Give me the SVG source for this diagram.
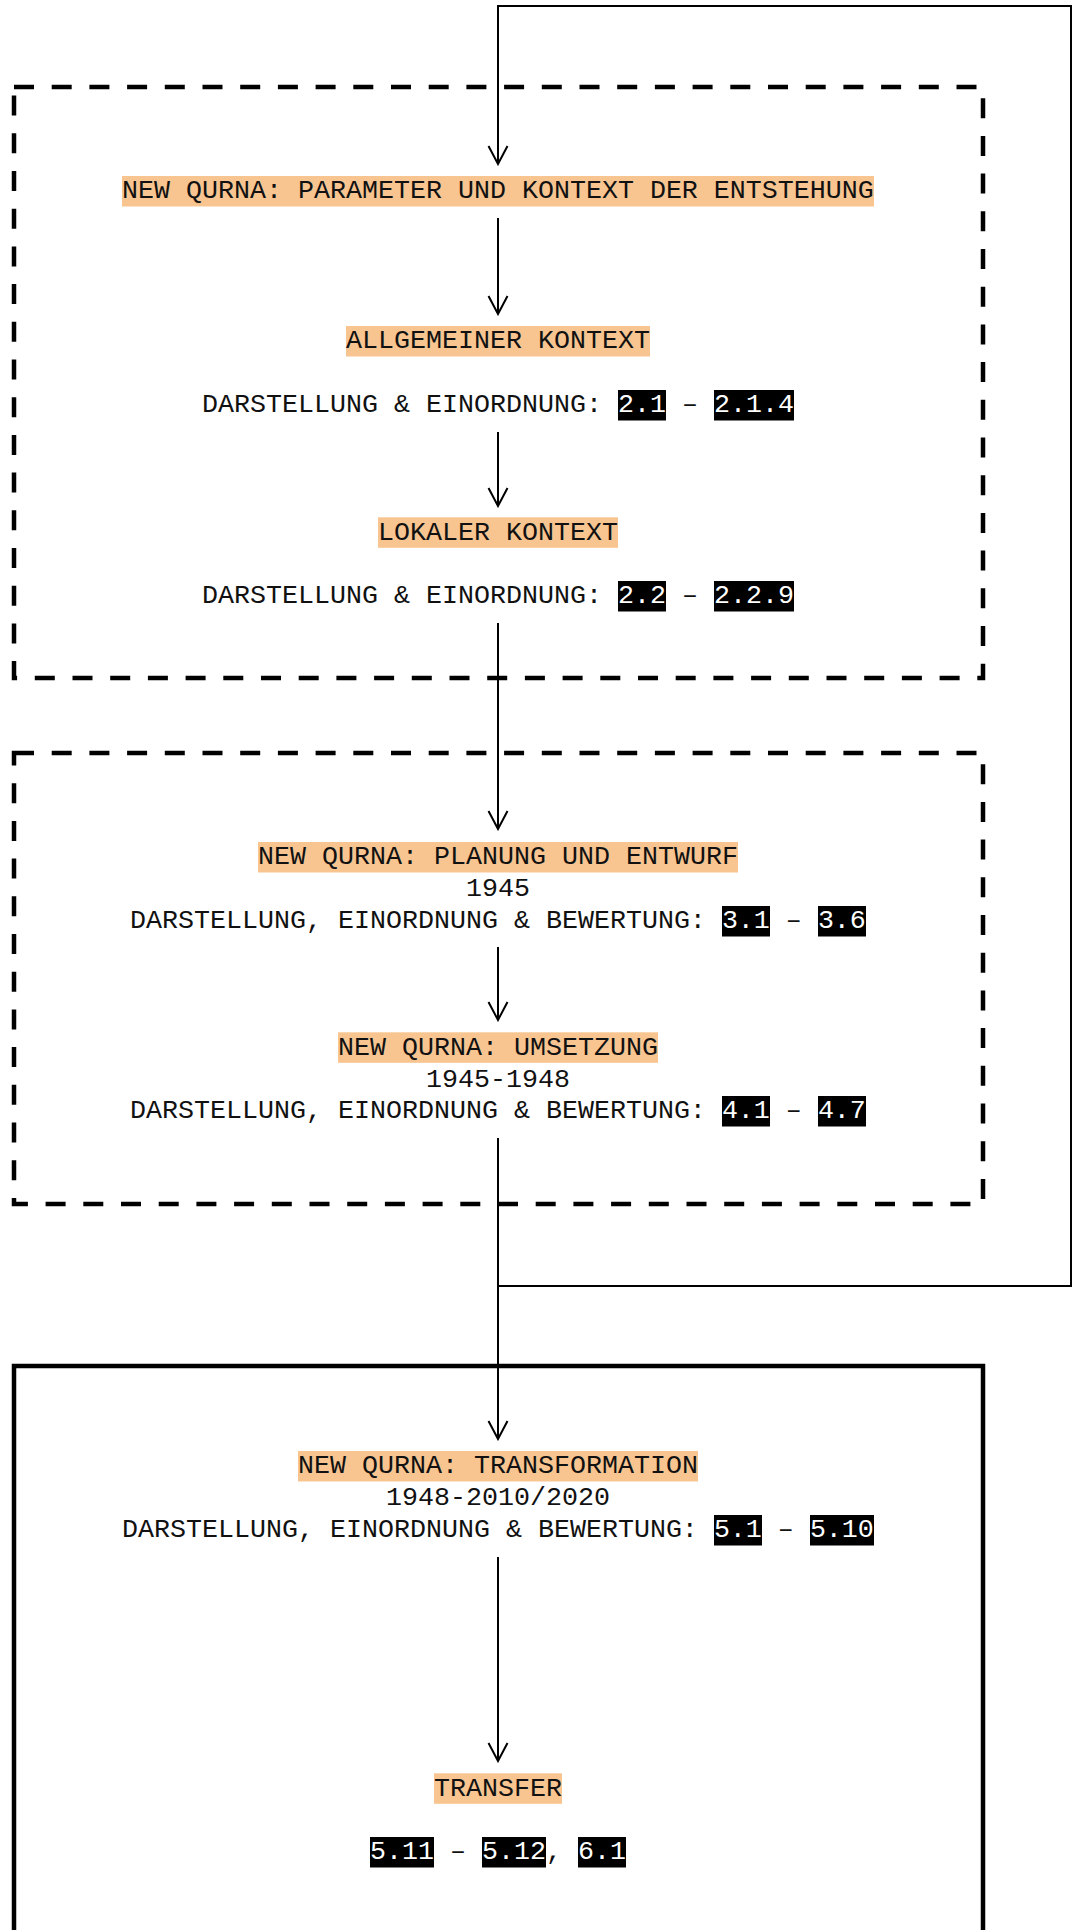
<svg xmlns="http://www.w3.org/2000/svg" width="1076" height="1930" viewBox="0 0 1076 1930">
<style>
.t{font-family:"Liberation Mono","Courier New",monospace;font-size:26.667px;fill:#111}
.w{fill:#fff}
.hl{fill:#F8C591}
.nb{fill:#000}
.dash{fill:none;stroke:#000;stroke-width:4.5;stroke-dasharray:20 17.7}
.solid{fill:none;stroke:#000;stroke-width:4.5}
.edge{fill:none;stroke:#000;stroke-width:2;marker-end:url(#arr)}
</style>
<defs>
<marker id="arr" markerUnits="userSpaceOnUse" viewBox="-20 -11 22 22" refX="0" refY="0" markerWidth="22" markerHeight="22" orient="auto">
<path d="M-18,-9.5 L0,0 L-18,9.5" fill="none" stroke="#000" stroke-width="2"/>
</marker>
</defs>
<g id="groups">
<rect id="group1" class="dash" x="14" y="87" width="969" height="591"/>
<rect id="group2" class="dash" x="14" y="753" width="969" height="451"/>
<rect id="group3" class="solid" x="14" y="1366" width="969" height="600"/>
</g>
<g id="connectors">
<path class="edge" d="M498,1286 H1071 V6 H498 V164"/>
<path class="edge" d="M498,218 V314"/>
<path class="edge" d="M498,432 V506"/>
<path class="edge" d="M498,623 V829"/>
<path class="edge" d="M498,947 V1020"/>
<path class="edge" d="M498,1138 V1439"/>
<path class="edge" d="M498,1557 V1761"/>
</g>
<g id="n-title">
<rect class="hl" x="122" y="176" width="752" height="30.5"/>
<text class="t" x="122" y="198.2" xml:space="preserve">NEW QURNA: PARAMETER UND KONTEXT DER ENTSTEHUNG</text>
</g>
<g id="n-allgemein">
<rect class="hl" x="346" y="326" width="304" height="30.5"/>
<text class="t" x="346" y="348.2" xml:space="preserve">ALLGEMEINER KONTEXT</text>
<rect class="nb" x="618" y="390" width="48" height="30.5"/>
<rect class="nb" x="714" y="390" width="80" height="30.5"/>
<text class="t" x="202" y="412.2" xml:space="preserve">DARSTELLUNG &amp; EINORDNUNG: <tspan class="w">2.1</tspan> – <tspan class="w">2.1.4</tspan></text>
</g>
<g id="n-lokal">
<rect class="hl" x="378" y="517.3" width="240" height="30.5"/>
<text class="t" x="378" y="539.5" xml:space="preserve">LOKALER KONTEXT</text>
<rect class="nb" x="618" y="581" width="48" height="30.5"/>
<rect class="nb" x="714" y="581" width="80" height="30.5"/>
<text class="t" x="202" y="603.2" xml:space="preserve">DARSTELLUNG &amp; EINORDNUNG: <tspan class="w">2.2</tspan> – <tspan class="w">2.2.9</tspan></text>
</g>
<g id="n-planung">
<rect class="hl" x="258" y="842" width="480" height="30.5"/>
<text class="t" x="258" y="864.2" xml:space="preserve">NEW QURNA: PLANUNG UND ENTWURF</text>
<text class="t" x="466" y="896.2" xml:space="preserve">1945</text>
<rect class="nb" x="722" y="906" width="48" height="30.5"/>
<rect class="nb" x="818" y="906" width="48" height="30.5"/>
<text class="t" x="130" y="928.2" xml:space="preserve">DARSTELLUNG, EINORDNUNG &amp; BEWERTUNG: <tspan class="w">3.1</tspan> – <tspan class="w">3.6</tspan></text>
</g>
<g id="n-umsetzung">
<rect class="hl" x="338" y="1032.3" width="320" height="30.5"/>
<text class="t" x="338" y="1054.5" xml:space="preserve">NEW QURNA: UMSETZUNG</text>
<text class="t" x="426" y="1086.5" xml:space="preserve">1945-1948</text>
<rect class="nb" x="722" y="1096" width="48" height="30.5"/>
<rect class="nb" x="818" y="1096" width="48" height="30.5"/>
<text class="t" x="130" y="1118.2" xml:space="preserve">DARSTELLUNG, EINORDNUNG &amp; BEWERTUNG: <tspan class="w">4.1</tspan> – <tspan class="w">4.7</tspan></text>
</g>
<g id="n-transformation">
<rect class="hl" x="298" y="1451" width="400" height="30.5"/>
<text class="t" x="298" y="1473.2" xml:space="preserve">NEW QURNA: TRANSFORMATION</text>
<text class="t" x="386" y="1505.2" xml:space="preserve">1948-2010/2020</text>
<rect class="nb" x="714" y="1515" width="48" height="30.5"/>
<rect class="nb" x="810" y="1515" width="64" height="30.5"/>
<text class="t" x="122" y="1537.2" xml:space="preserve">DARSTELLUNG, EINORDNUNG &amp; BEWERTUNG: <tspan class="w">5.1</tspan> – <tspan class="w">5.10</tspan></text>
</g>
<g id="n-transfer">
<rect class="hl" x="434" y="1773.3" width="128" height="30.5"/>
<text class="t" x="434" y="1795.5" xml:space="preserve">TRANSFER</text>
<rect class="nb" x="370" y="1837" width="64" height="30.5"/>
<rect class="nb" x="482" y="1837" width="64" height="30.5"/>
<rect class="nb" x="578" y="1837" width="48" height="30.5"/>
<text class="t" x="370" y="1859.2" xml:space="preserve"><tspan class="w">5.11</tspan> – <tspan class="w">5.12</tspan>, <tspan class="w">6.1</tspan></text>
</g>
</svg>
